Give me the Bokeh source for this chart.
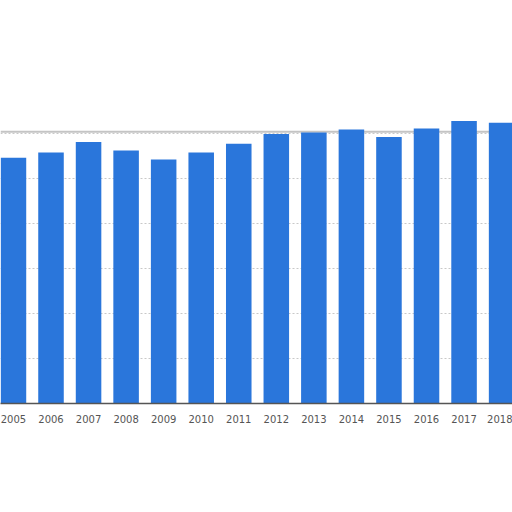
from bokeh.plotting import figure
from bokeh.models import Range1d, FixedTicker, Span
from bokeh.embed import file_html
from bokeh.resources import INLINE

years = [2005, 2006, 2007, 2008, 2009, 2010, 2011,
         2012, 2013, 2014, 2015, 2016, 2017, 2018]
values = [54.6, 55.8, 58.1, 56.2, 54.2, 55.8, 57.7,
          59.9, 60.2, 60.9, 59.2, 61.1, 62.8, 62.4]
grid_ticks = [10, 20, 30, 40, 50, 60]

p = figure(width=512, height=512, output_backend="svg", toolbar_location=None,
           x_range=Range1d(2004.655, 2018.29), y_range=Range1d(0, 89.56),
           min_border_left=0, min_border_right=0, min_border_top=0,
           min_border_bottom=109)

p.vbar(x=years, top=values, width=0.68, bottom=0,
       fill_color="#2a76db", line_color=None)

# torn paper edge along the top of the screenshot
p.add_layout(Span(location=60.4, dimension="width", line_color="#c4c4c4",
                  line_width=2, level="underlay"))

p.outline_line_color = None
p.background_fill_color = "white"
p.border_fill_color = "white"

p.yaxis.visible = False
p.xgrid.grid_line_color = None
p.ygrid.ticker = FixedTicker(ticks=grid_ticks)
p.ygrid.grid_line_color = "#c8c8c8"
p.ygrid.grid_line_dash = "2 2"

p.xaxis.ticker = FixedTicker(ticks=years)
p.xaxis.axis_line_color = "#555555"
p.xaxis.axis_line_width = 1.5
p.xaxis.major_tick_line_color = None
p.xaxis.minor_tick_line_color = None
p.xaxis.major_label_standoff = 5
p.xaxis.major_label_text_font = "DejaVu Sans"
p.xaxis.major_label_text_font_size = "10px"
p.xaxis.major_label_text_color = "#555555"

open("out.html", "w").write(file_html(p, INLINE))
